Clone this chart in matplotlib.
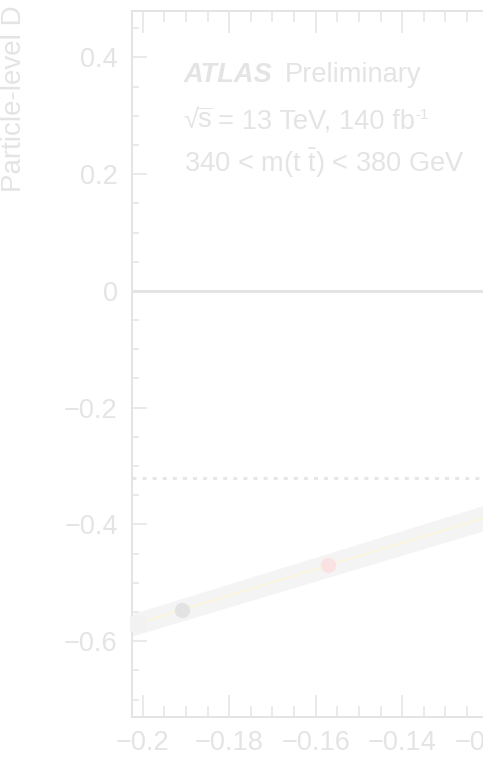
import numpy as np
import matplotlib
matplotlib.use("Agg")
import matplotlib.pyplot as plt
from matplotlib.ticker import FixedLocator, FixedFormatter, MultipleLocator

# ------------------------
# Data
# ------------------------
x_ticks = [-0.2, -0.18, -0.16, -0.14, -0.12, -0.1]
x_tick_labels = ["\u22120.2", "\u22120.18", "\u22120.16", "\u22120.14", "\u22120.12", "\u22120.1"]
y_ticks = [-0.6, -0.4, -0.2, 0.0, 0.2, 0.4]
y_tick_labels = ["\u22120.6", "\u22120.4", "\u22120.2", "0", "0.2", "0.4"]

# calibration line and its uncertainty band (end points)
line_x = [-0.205, -0.11]
line_y = [-0.578, -0.364]
band_lo = [-0.597, -0.386]
band_hi = [-0.559, -0.342]

# points on the line
square_x, square_y = [-0.2011], [-0.570]
gray_x, gray_y = [-0.1909], [-0.547]
pink_x, pink_y = [-0.1572], [-0.469]

ref_level = -0.32

# ------------------------
# Style
# ------------------------
plt.rcParams["font.family"] = ["Liberation Sans", "DejaVu Sans"]
plt.rcParams["mathtext.fontset"] = "custom"
plt.rcParams["mathtext.rm"] = "Liberation Sans"
plt.rcParams["mathtext.it"] = "Liberation Sans:italic"
plt.rcParams["mathtext.bf"] = "Liberation Sans:bold"

FAINT = "#e4e4e4"
TXT = 19.6
W, H = 483, 761

fig = plt.figure(figsize=(4.83, 7.61), dpi=100)
ax = fig.add_axes([0.2739, 0.0578, 0.8274, 0.9281])

ax.set_xlim(-0.2024, -0.11)
ax.set_ylim(-0.73, 0.48)

# band + line
ax.fill_between(line_x, band_lo, band_hi, color="#f4f4f4", lw=0, zorder=1)
ax.plot(line_x, line_y, color="#fbf4d8", lw=1.2, zorder=2)

# reference lines
ax.axhline(0.0, color="#e4e4e4", lw=2.2, zorder=1)
ax.axhline(ref_level, color="#e6e6e6", lw=2.2, linestyle=(0, (1.3, 2.0)), zorder=1)

# markers
ax.plot(square_x, square_y, "s", color="#f2f2f2", ms=11, mew=0, zorder=3, clip_on=False)
ax.plot(gray_x, gray_y, "o", color="#e3e3e3", ms=11, mew=0, zorder=3)
ax.plot(pink_x, pink_y, "o", color="#fbe2e2", ms=11, mew=0, zorder=3)

# axes styling
for s in ax.spines.values():
    s.set_color(FAINT)
    s.set_linewidth(1.4)

ax.xaxis.set_major_locator(FixedLocator(x_ticks))
ax.xaxis.set_major_formatter(FixedFormatter(x_tick_labels))
ax.xaxis.set_minor_locator(MultipleLocator(0.005))
ax.yaxis.set_major_locator(FixedLocator(y_ticks))
ax.yaxis.set_major_formatter(FixedFormatter(y_tick_labels))
ax.yaxis.set_minor_locator(MultipleLocator(0.05))

ax.tick_params(axis="both", which="both", direction="in", top=True, right=True,
               color=FAINT, labelcolor=FAINT, width=1.1)
ax.tick_params(axis="x", which="major", length=15.8, labelsize=19.5, pad=9)
ax.tick_params(axis="x", which="minor", length=7.9)
ax.tick_params(axis="y", which="major", length=10.8, labelsize=19.5, pad=10.5)
ax.tick_params(axis="y", which="minor", length=5)

# y label (only its first part is visible)
fig.text(14 / W, (H - 192) / H, "Particle-level D", rotation=90,
         ha="center", va="bottom", fontsize=20, color=FAINT)

# ATLAS label
fig.text(184 / W, (H - 82) / H, "ATLAS", fontsize=TXT, fontweight="bold",
         fontstyle="italic", color=FAINT)
fig.text(285 / W, (H - 82) / H, "Preliminary", fontsize=TXT, color=FAINT)

# second line built from pieces (compact root sign, plain hyphen in the exponent)
renderer = fig.canvas.get_renderer()
y2 = (H - 128) / H
t0 = fig.text(183 / W, y2, "\u221a", fontsize=TXT, color=FAINT)
x_end = t0.get_window_extent(renderer).x1
t1 = fig.text((x_end - 1) / W, y2, r"$\overline{\mathrm{s}}$", fontsize=TXT, color=FAINT)
x_end = t1.get_window_extent(renderer).x1
t2 = fig.text((x_end + 5) / W, y2, "= 13 TeV, 140 fb", fontsize=TXT, color=FAINT)
x_end = t2.get_window_extent(renderer).x1
fig.text((x_end + 1) / W, y2 + 9 / H, "-1", fontsize=11, color=FAINT)

fig.text(184 / W, (H - 172) / H, r"340 < m(t $\bar{\mathrm{t}}$) < 380 GeV",
         fontsize=TXT, color=FAINT)

fig.savefig("out.png", dpi=100)
